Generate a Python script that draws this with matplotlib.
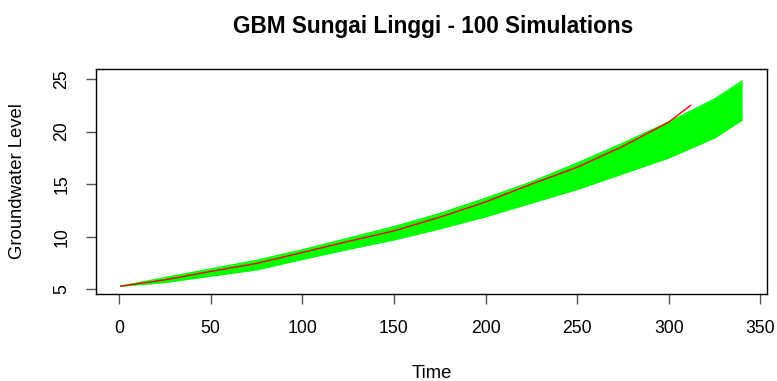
import matplotlib
matplotlib.use("Agg")
import matplotlib.pyplot as plt

# Simulation band (envelope of the 100 simulated paths)
sim_time = [1, 25, 50, 75, 100, 125, 150, 175, 200, 225, 250, 275, 300, 325, 340]
sim_upper = [5.3, 6.1, 6.93, 7.75, 8.75, 9.85, 10.95, 12.2, 13.65, 15.2, 17.0, 18.9, 20.9, 23.1, 24.8]
sim_lower = [5.3, 5.65, 6.26, 6.85, 7.85, 8.8, 9.7, 10.75, 11.9, 13.2, 14.5, 16.0, 17.5, 19.4, 21.1]

# Observed series (red)
obs_time = [1, 25, 50, 75, 100, 125, 150, 175, 200, 225, 250, 275, 300, 312]
obs_level = [5.3, 5.9, 6.7, 7.45, 8.5, 9.55, 10.55, 11.85, 13.3, 15.0, 16.6, 18.6, 20.9, 22.5]

x_ticks = [0, 50, 100, 150, 200, 250, 300, 350]
y_ticks = [5, 10, 15, 20, 25]

plt.rcParams['font.family'] = ['Liberation Sans', 'DejaVu Sans']

fig = plt.figure(figsize=(7.77, 3.81), dpi=100)
ax = fig.add_axes([96 / 777, 1 - 294 / 381, (767 - 96) / 777, (294 - 69) / 381])

ax.fill_between(sim_time, sim_lower, sim_upper, color='#00FF00', linewidth=0)
ax.plot(sim_time, sim_upper, color='#00FF00', lw=1)
ax.plot(sim_time, sim_lower, color='#00FF00', lw=1)
ax.plot(obs_time, obs_level, color='red', lw=1)

ax.set_xlim(-12.6, 353.6)
ax.set_ylim(4.55, 25.95)
ax.set_xticks(x_ticks)
ax.set_yticks(y_ticks)
ax.set_xticklabels([str(v) for v in x_ticks], fontsize=12.7)
ax.set_yticklabels([str(v) for v in y_ticks], fontsize=12.7, rotation=90, va='center')
ax.tick_params(axis='both', direction='out', length=7.5, width=1, color='#555555', pad=11)

for s in ax.spines.values():
    s.set_linewidth(1)
    s.set_color('black')

fig.text(433 / 777, 1 - 26 / 381, 'GBM Sungai Linggi - 100 Simulations',
         ha='center', va='center', fontsize=16.3, fontweight='bold')
fig.text(431.5 / 777, 1 - 373.5 / 381, 'Time', ha='center', va='center', fontsize=13.3)
fig.text(18 / 777, 1 - 181.5 / 381, 'Groundwater Level', ha='center', va='center',
         rotation=90, fontsize=13.3)

fig.savefig('out.png', dpi=100)
